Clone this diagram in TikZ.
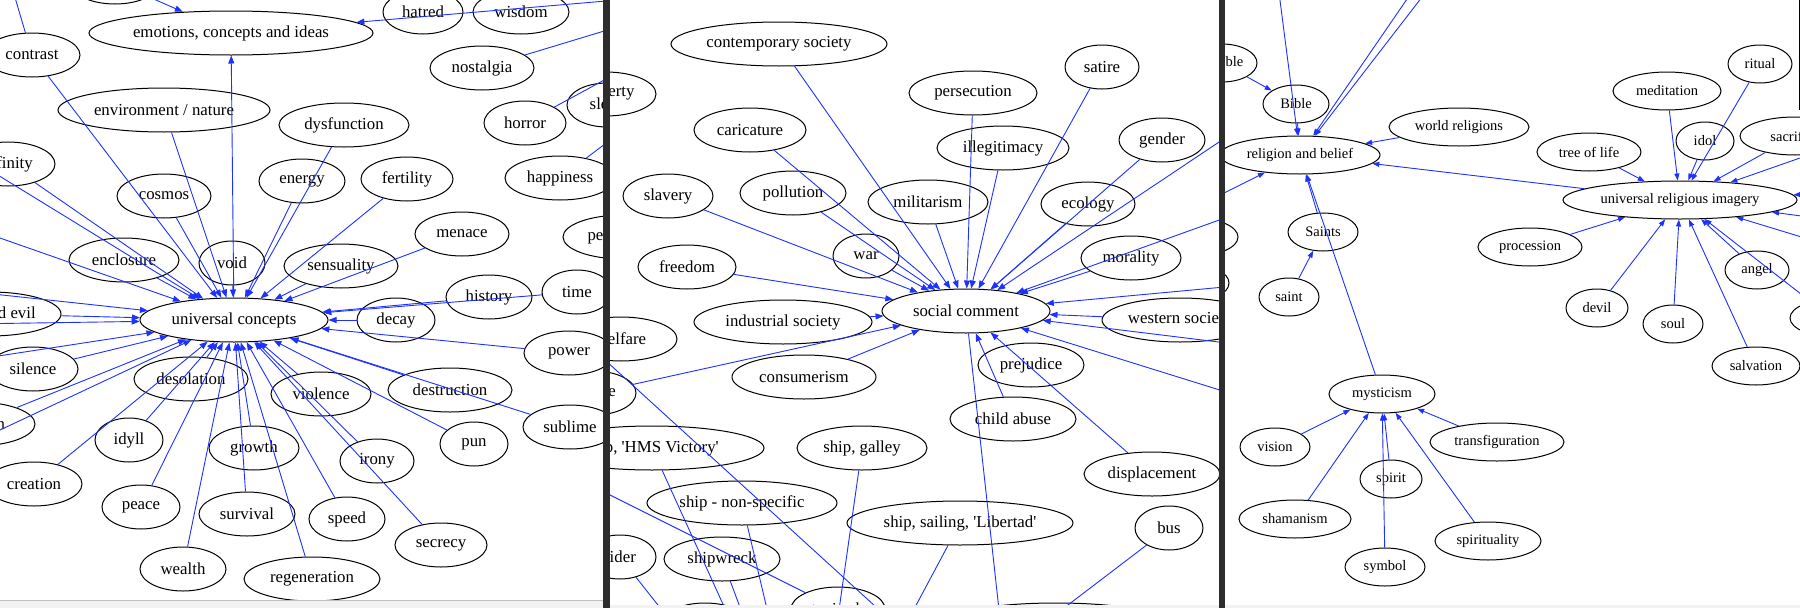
\documentclass[tikz,border=0pt]{standalone}
\usepackage{fontspec}
\setmainfont{Liberation Serif}
\usetikzlibrary{shapes.geometric,arrows.meta}
\definecolor{eblue}{RGB}{30,50,255}
\definecolor{sepc}{RGB}{45,45,45}
\newcommand\fsA{\fontsize{16.8}{20}\selectfont}
\newcommand\fsB{\fontsize{14.5}{17}\selectfont}
\tikzset{
 nd/.style={draw=black,ellipse,line width=1pt,inner sep=0pt,minimum height=44,font=\fsA},
 ndb/.style={nd,minimum height=38,font=\fsB},
 edg/.style={draw=eblue,line width=0.9pt,-{Triangle[length=8pt,width=6pt]}},
 edgb/.style={draw=eblue,line width=0.9pt,-{Triangle[length=7pt,width=5pt]}},
 ln/.style={draw=eblue,line width=0.9pt},
}
\newcommand\mkn[4]{\node[nd,minimum width={2*#3}] (#1) at (#2) {#4};}
\newcommand\mkm[4]{\node[ndb,minimum width={2*#3}] (#1) at (#2) {#4};}
\newcommand\arw[2]{\draw[edg] (#1) -- (#2);}
\newcommand\arwb[2]{\draw[edgb] (#1) -- (#2);}
\newcommand\lnk[2]{\draw[ln] (#1) -- (#2);}
\newcommand\sq{\textquotesingle}
\begin{document}
\begin{tikzpicture}[x=1pt,y=-1pt]
\useasboundingbox (0,0) rectangle (1800,608);
\fill[white] (0,0) rectangle (1800,608);
% ---------------- panel 1
\begin{scope}
\clip (0,0) rectangle (603,600);
\mkn{topA}{115,-18}{45}{}
\mkn{emo}{231,33}{142}{emotions, concepts and ideas}
\mkn{contrast}{32,55}{48}{contrast}
\mkn{hatred}{423,12}{40}{hatred}
\mkn{wisdom}{521,12}{48}{wisdom}
\mkn{nostalgia}{482,68}{52}{nostalgia}
\mkn{env}{164,110}{106}{environment / nature}
\mkn{dysf}{344,125}{65}{dysfunction}
\mkn{horror}{525,123}{41}{horror}
\mkn{sleep}{607,105}{40}{sleep}
\mkn{infinity}{8,164}{47}{infinity}
\mkn{cosmos}{164,196}{47}{cosmos}
\mkn{energy}{302,181}{43}{energy}
\mkn{fertility}{407,179}{46}{fertility}
\mkn{happiness}{560,178}{55}{happiness}
\mkn{menace}{462,234}{47}{menace}
\mkn{perception}{623,237}{60}{perception}
\mkn{enclosure}{124,260}{55}{enclosure}
\mkn{void}{232,263}{33}{void}
\mkn{sensuality}{341,266}{57}{sensuality}
\mkn{history}{489,297}{43}{history}
\mkn{time}{577,292}{35}{time}
\mkn{uc}{234,320}{94}{universal concepts}
\mkn{evil}{-10,314}{71}{good and evil}
\mkn{decay}{396,320}{39}{decay}
\mkn{power}{569,353}{45}{power}
\mkn{silence}{33,369}{45}{silence}
\mkn{desolation}{191,379}{57}{desolation}
\mkn{violence}{321,394}{50}{violence}
\mkn{destruction}{450,390}{62}{destruction}
\mkn{sublime}{570,427}{47}{sublime}
\mkn{isolation}{-24,424}{59}{isolation}
\mkn{idyll}{129,440}{34}{idyll}
\mkn{growth}{254,448}{45}{growth}
\mkn{irony}{377,461}{37}{irony}
\mkn{pun}{474,444}{34}{pun}
\mkn{creation}{34,484}{48}{creation}
\mkn{peace}{141,507}{39}{peace}
\mkn{survival}{247,514}{48}{survival}
\mkn{speed}{347,519}{38}{speed}
\mkn{secrecy}{441,545}{46}{secrecy}
\mkn{wealth}{183,569}{43}{wealth}
\mkn{regen}{312,579}{68}{regeneration}
\coordinate (c1) at (-2,-60);
\coordinate (rA) at (700,-7);
\coordinate (rB) at (700,2);
\coordinate (rC) at (700,28);
\coordinate (rD) at (700,72);
\coordinate (l1) at (-100,115);
\coordinate (l2) at (-100,203);
\coordinate (l3) at (-100,284);
\coordinate (l4) at (-100,325);
\coordinate (l5) at (-100,371);
\coordinate (l6) at (-100,477);
\arw{topA}{emo}
\lnk{contrast}{c1}
\arw{rA}{emo}
\lnk{nostalgia}{rB}
\lnk{horror}{rC}
\lnk{happiness}{rD}
\arw{uc}{emo}
\foreach \s in {contrast,env,infinity,l1,l2,l3,l4,l5,l6,evil,silence,isolation,creation,idyll,desolation,peace,wealth,survival,growth,regen,speed,violence,irony,secrecy,pun,destruction,sublime,power,decay,history,time,cosmos,void,energy,dysf,fertility,sensuality,menace,enclosure}
  {\arw{\s}{uc}}
\end{scope}
% ---------------- panel 2
\begin{scope}
\clip (610,0) rectangle (1219,605);
\mkn{property}{606,94}{50}{property}
\mkn{contemp}{779,44}{108}{contemporary society}
\mkn{satire}{1102,67}{37}{satire}
\mkn{persec}{973,93}{64}{persecution}
\mkn{caric}{750,130}{56}{caricature}
\mkn{illeg}{1003,148}{66}{illegitimacy}
\mkn{gender}{1162,140}{43}{gender}
\mkn{slavery}{668,196}{45}{slavery}
\mkn{pollution}{793,193}{53}{pollution}
\mkn{milit}{928,202}{60}{militarism}
\mkn{ecology}{1088,204}{47}{ecology}
\mkn{war}{866,256}{33}{war}
\mkn{freedom}{687,267}{49}{freedom}
\mkn{morality}{1131,258}{50}{morality}
\mkn{sc}{966,311}{84}{social comment}
\mkn{indus}{783,322}{89}{industrial society}
\mkn{western}{1180,320}{78}{western society}
\mkn{welfare}{621,339}{56}{welfare}
\mkn{justice}{594,393}{42}{justice}
\mkn{consum}{804,377}{72}{consumerism}
\mkn{prej}{1031,365}{53}{prejudice}
\mkn{child}{1013,419}{63}{child abuse}
\mkn{hms}{652,448}{112}{ship, \sq HMS Victory\sq}
\mkn{galley}{862,448}{65}{ship, galley}
\mkn{displ}{1152,474}{68}{displacement}
\mkn{shipns}{742,503}{95}{ship - non-specific}
\mkn{libertad}{960,523}{113}{ship, sailing, \sq Libertad\sq}
\mkn{bus}{1169,528}{34}{bus}
\mkn{rider}{620,557}{36}{rider}
\mkn{shipwreck}{722,559}{58}{shipwreck}
\mkn{taxi}{838,609}{47}{taxi cab}
\mkn{botA}{1056,625}{118}{}
\mkn{botB}{705,625}{45}{}
\coordinate (r2a) at (1300,88);
\coordinate (r2b) at (1300,191);
\coordinate (r2c) at (1300,280);
\coordinate (r2d) at (1300,352);
\coordinate (r2e) at (1300,415);
\coordinate (b2) at (1020,800);
\coordinate (hub) at (812,800);
\coordinate (wA) at (560,319);
\coordinate (wB) at (1000,720);
\coordinate (tA) at (560,470);
\foreach \s in {contemp,caric,persec,satire,illeg,gender,r2a,r2b,ecology,morality,milit,pollution,war,slavery,freedom,r2c,western,r2d,r2e,displ,child,consum,justice,indus}
  {\arw{\s}{sc}}
\lnk{sc}{b2}
\foreach \s in {rider,hms,shipwreck,shipns,galley,libertad,bus}
  {\lnk{\s}{hub}}
\lnk{wA}{wB}
\lnk{tA}{taxi}
\end{scope}
% ---------------- panel 3
\begin{scope}
\clip (1225,0) rectangle (1800,605);
\mkm{parable}{1222,63}{35}{parable}
\mkm{bible}{1296,104}{33}{Bible}
\mkm{rb}{1300,155}{80}{religion and belief}
\mkm{worldrel}{1459,127}{70}{world religions}
\mkm{medit}{1667,91}{54}{meditation}
\mkm{ritual}{1760,64}{32}{ritual}
\mkm{idol}{1705,141}{29}{idol}
\mkm{sacrif}{1795,136}{55}{sacrifice}
\mkm{tree}{1589,152}{52}{tree of life}
\mkm{uri}{1680,200}{117}{universal religious imagery}
\mkm{saints}{1323,232}{35}{Saints}
\mkm{procession}{1530,247}{52}{procession}
\mkm{angel}{1757,270}{32}{angel}
\mkm{saint}{1289,297}{30}{saint}
\mkm{devil}{1597,308}{31}{devil}
\mkm{soul}{1673,324}{30}{soul}
\mkm{salvation}{1756,366}{44}{salvation}
\mkm{rp}{1835,318}{45}{}
\mkm{lp1}{1195,237}{43}{}
\mkm{lp2}{1190,283}{39}{}
\mkm{myst}{1382,394}{53}{mysticism}
\mkm{vision}{1275,447}{35}{vision}
\mkm{transf}{1497,442}{67}{transfiguration}
\mkm{spirit}{1391,479}{31}{spirit}
\mkm{shaman}{1295,519}{56}{shamanism}
\mkm{spiritual}{1488,541}{53}{spirituality}
\mkm{symbol}{1385,567}{40}{symbol}
\coordinate (t3a) at (1267,-100);
\coordinate (t3b) at (1475,-100);
\coordinate (t3c) at (1497,-100);
\coordinate (l3a) at (1100,255);
\coordinate (r3a) at (1900,123);
\coordinate (r3b) at (1900,190);
\coordinate (r3c) at (1900,229);
\coordinate (r3d) at (1900,267);
\coordinate (r3e) at (1900,371);
\arwb{parable}{bible}
\foreach \s in {t3a,bible,t3b,t3c,worldrel,uri,l3a,saints,myst}
  {\arwb{\s}{rb}}
\arwb{saint}{saints}
\foreach \s in {tree,medit,idol,ritual,sacrif,r3a,r3b,r3c,r3d,angel,r3e,procession,devil,soul,salvation}
  {\arwb{\s}{uri}}
\foreach \s in {vision,shaman,symbol,spirit,spiritual,transf}
  {\arwb{\s}{myst}}
\draw[black,line width=1pt] (1799,0) -- (1799,110);
\end{scope}
% ---------------- frame pieces
\fill[gray!10] (0,600) rectangle (603,608);
\draw[gray!50,line width=0.6pt] (0,600) -- (603,600);
\fill[gray!10] (610,605) rectangle (1219,608);
\fill[gray!10] (1225,605) rectangle (1800,608);
\fill[sepc] (603,0) rectangle (610,608);
\fill[sepc] (1219,0) rectangle (1225,608);
\end{tikzpicture}
\end{document}
